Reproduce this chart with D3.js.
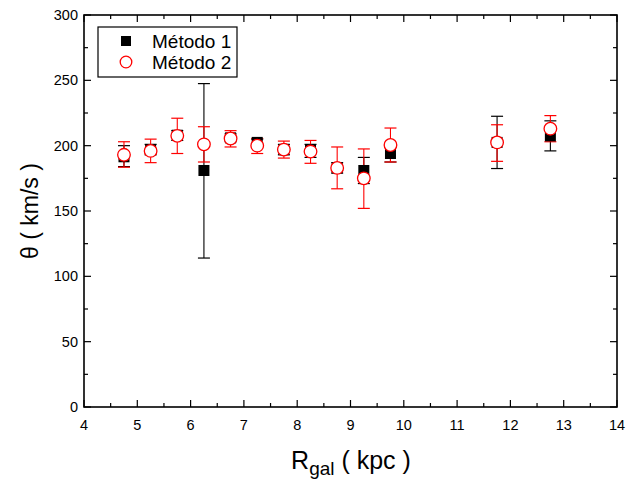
<!DOCTYPE html>
<html><head><meta charset="utf-8">
<script src="https://cdn.jsdelivr.net/npm/d3@7"></script>
<style>body{margin:0;background:#fff}svg{font-family:"Liberation Sans",Arial,sans-serif}</style>
</head><body><svg id="c" width="628" height="480"></svg>
<script>
const rgal = [4.75,5.25,5.75,6.25,6.75,7.25,7.75,8.25,8.75,9.25,9.75,11.75,12.75];
const m1 = [191.5,197,208,181,206,202.5,197,197,183,181,194,202.5,207.5];
const m1Lo = [184,193,204,114,203,200,193,191,179,171,187.5,182.5,196];
const m1Hi = [200,201,211.5,247.5,209,205,201,201,187,191,199,222.5,219];
const m2 = [193,196,207.5,201,205.5,200,197,195.5,183,175,200.5,202.5,213];
const m2Lo = [183.5,187,194,187.5,199,194,190.5,186.5,167,152,187.5,188,203];
const m2Hi = [203,205,221,214.5,211.5,205.5,203.5,204,199,197.5,213.5,216,223];
const xTicks = [4,5,6,7,8,9,10,11,12,13,14];
const yTicks = [0,50,100,150,200,250,300];
const legendLabels = ["Método 1","Método 2"];

const svg = d3.select("#c");
const L=84,R=617,T=15,B=407;
const x = d3.scaleLinear().domain([4,14]).range([L,R]);
const y = d3.scaleLinear().domain([0,300]).range([B,T]);

const g = svg.append("g").attr("stroke","#000").attr("stroke-width",1.2);
const xMinor = d3.range(4.5,14,1);
const yMinor = d3.range(25,300,50);
xTicks.forEach(v=>{
  g.append("line").attr("x1",x(v)).attr("x2",x(v)).attr("y1",B).attr("y2",B-7);
  g.append("line").attr("x1",x(v)).attr("x2",x(v)).attr("y1",T).attr("y2",T+7);
});
xMinor.forEach(v=>{
  g.append("line").attr("x1",x(v)).attr("x2",x(v)).attr("y1",B).attr("y2",B-4);
  g.append("line").attr("x1",x(v)).attr("x2",x(v)).attr("y1",T).attr("y2",T+4);
});
yTicks.forEach(v=>{
  g.append("line").attr("y1",y(v)).attr("y2",y(v)).attr("x1",L).attr("x2",L+7);
  g.append("line").attr("y1",y(v)).attr("y2",y(v)).attr("x1",R).attr("x2",R-7);
});
yMinor.forEach(v=>{
  g.append("line").attr("y1",y(v)).attr("y2",y(v)).attr("x1",L).attr("x2",L+4);
  g.append("line").attr("y1",y(v)).attr("y2",y(v)).attr("x1",R).attr("x2",R-4);
});
svg.append("rect").attr("x",L).attr("y",T).attr("width",R-L).attr("height",B-T)
  .attr("fill","none").attr("stroke","#000").attr("stroke-width",1.6);

svg.append("g").selectAll("text").data(xTicks).join("text")
  .attr("x",d=>x(d)).attr("y",B+23).attr("text-anchor","middle")
  .attr("font-size",14.5).text(d=>d);
svg.append("g").selectAll("text").data(yTicks).join("text")
  .attr("x",L-6).attr("y",d=>y(d)+5).attr("text-anchor","end")
  .attr("font-size",14.5).text(d=>d);

const xt = svg.append("text").attr("x",351).attr("y",469).attr("text-anchor","middle").attr("font-size",25);
xt.append("tspan").text("R");
xt.append("tspan").attr("font-size",19).attr("dy",6).text("gal");
xt.append("tspan").attr("dy",-6).text(" ( kpc )");
svg.append("text").attr("transform","translate(38,211) rotate(-90)").attr("text-anchor","middle")
  .attr("font-size",23).text("θ ( km/s )");

function bars(lo, hi, color){
  const gg = svg.append("g");
  const cw = 6;
  rgal.forEach((r,i)=>{
    const cx=x(r);
    gg.append("line").attr("x1",cx).attr("x2",cx).attr("y1",y(lo[i])).attr("y2",y(hi[i])).attr("stroke",color).attr("stroke-width",1.1);
    [lo[i],hi[i]].forEach(v=>gg.append("line").attr("x1",cx-cw).attr("x2",cx+cw).attr("y1",y(v)).attr("y2",y(v)).attr("stroke",color).attr("stroke-width",1.2));
  });
}
bars(m1Lo,m1Hi,"#000");
bars(m2Lo,m2Hi,"#ff0000");
svg.append("g").selectAll("rect").data(rgal).join("rect")
  .attr("x",(d)=>x(d)-5.5).attr("y",(d,i)=>y(m1[i])-5.5).attr("width",11).attr("height",11).attr("fill","#000");
svg.append("g").selectAll("circle").data(rgal).join("circle")
  .attr("cx",d=>x(d)).attr("cy",(d,i)=>y(m2[i])).attr("r",6.3)
  .attr("fill","#fff").attr("stroke","#ff0000").attr("stroke-width",1.3);

const lg = svg.append("g");
lg.append("rect").attr("x",98).attr("y",27).attr("width",139).attr("height",50).attr("fill","#fff").attr("stroke","#000").attr("stroke-width",1.2);
lg.append("rect").attr("x",121).attr("y",36).attr("width",10).attr("height",10).attr("fill","#000");
lg.append("circle").attr("cx",126).attr("cy",62).attr("r",5.8).attr("fill","#fff").attr("stroke","#ff0000").attr("stroke-width",1.3);
lg.selectAll("text").data(legendLabels).join("text")
  .attr("x",152).attr("y",(d,i)=>48+i*21).attr("font-size",19).text(d=>d);
</script></body></html>
